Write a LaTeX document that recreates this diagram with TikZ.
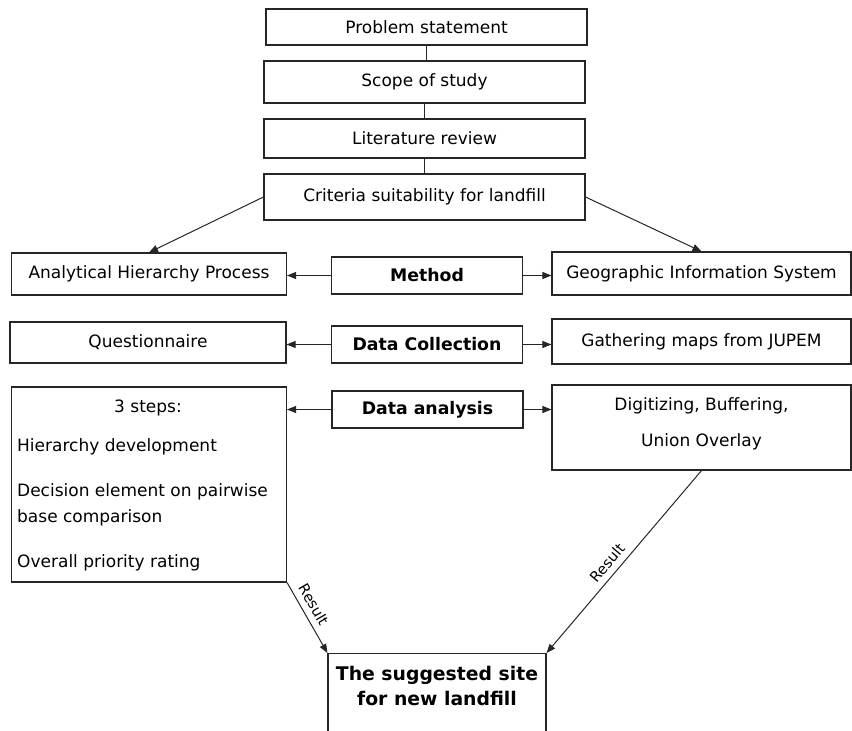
\documentclass[tikz,border=0pt]{standalone}
\usepackage{fontspec}
\setmainfont{DejaVu Sans}
\usetikzlibrary{arrows.meta}
\begin{document}
\begin{tikzpicture}[x=1pt,y=-1pt,
  txt/.style={font=\fontsize{17}{20}\selectfont},
  box/.style={draw=black!85,line width=1.1pt,rectangle,inner sep=0pt,anchor=center,txt},
  hbox/.style={box,font=\bfseries\fontsize{17.3}{20}\selectfont},
  line/.style={draw=black!85,line width=1pt},
  arr/.style={line,-{Triangle[length=9pt,width=7pt]}},
  lbl/.style={font=\fontsize{14.5}{16}\selectfont,sloped,above=5pt,inner sep=1pt}]
\useasboundingbox (0,0) rectangle (852,731);
\clip (0,0) rectangle (852,731);
% top chain
\node[box,minimum width=321pt,minimum height=36pt] (ps) at (426.5,27) {Problem statement};
\node[box,minimum width=321pt,minimum height=42pt] (sc) at (424.5,82) {Scope of study};
\node[box,minimum width=321pt,minimum height=39pt] (lr) at (424.5,138.5) {Literature review};
\node[box,minimum width=321pt,minimum height=46pt] (cr) at (424.5,197) {Criteria suitability for landfill};
% row 1
\node[box,minimum width=275pt,minimum height=42pt] (ahp) at (149,274) {Analytical Hierarchy Process};
\node[hbox,minimum width=191pt,minimum height=37pt] (me) at (427,275.5) {Method};
\node[box,minimum width=299pt,minimum height=43pt] (gis) at (701.5,273.5) {Geographic Information System};
% row 2
\node[box,minimum width=276pt,minimum height=41pt] (qu) at (148,342.5) {Questionnaire};
\node[hbox,minimum width=191pt,minimum height=37pt] (dc) at (427,344.5) {Data Collection};
\node[box,minimum width=299pt,minimum height=45pt] (gm) at (701.5,341.5) {Gathering maps from JUPEM};
% row 3
\node[box,minimum width=275pt,minimum height=195pt] (st) at (149,484.5) {};
\node[hbox,minimum width=191pt,minimum height=37pt] (da) at (427.5,409.5) {Data analysis};
\node[box,minimum width=299pt,minimum height=85pt] (dg) at (701.5,427.5) {};
\node[txt,anchor=center] (dg1) at (701.5,406) {Digitizing, Buffering,};
\node[txt,anchor=center] (dg2) at (701.5,442) {Union Overlay};
\node[txt,anchor=center] (s0) at (148,408) {3 steps:};
\node[txt,anchor=west,inner sep=0pt] (s1) at (17,447) {Hierarchy development};
\node[txt,anchor=west,inner sep=0pt] (s2) at (17,492) {Decision element on pairwise};
\node[txt,anchor=west,inner sep=0pt] (s3) at (17,518) {base comparison};
\node[txt,anchor=west,inner sep=0pt] (s4) at (17,563) {Overall priority rating};
% final
\node[draw=black!85,line width=1.1pt,minimum width=218pt,minimum height=100pt,anchor=north,inner sep=0pt] (fin) at (437,653) {};
\node[font=\bfseries\fontsize{18.8}{25}\selectfont,align=center,anchor=center] (fint) at (437,685.5) {The suggested site\\for new landfill};
% connectors
\draw[line] (ps.south) -- (ps.south |- sc.north);
\draw[line] (sc.south) -- (sc.south |- lr.north);
\draw[line] (lr.south) -- (lr.south |- cr.north);
\draw[arr] (cr.west) -- (ahp.north);
\draw[arr] (cr.east) -- (gis.north);
\draw[arr] (me.west) -- (me.west -| ahp.east);
\draw[arr] (me.east) -- (me.east -| gis.west);
\draw[arr] (dc.west) -- (dc.west -| qu.east);
\draw[arr] (dc.east) -- (dc.east -| gm.west);
\draw[arr] (da.west) -- (da.west -| st.east);
\draw[arr] (da.east) -- (da.east -| dg.west);
\draw[arr] (st.south east) -- node[lbl,pos=0.4] {Result} (fin.north west);
\draw[arr] (dg.south) -- node[lbl,pos=0.55] {Result} (fin.north east);
\end{tikzpicture}
\end{document}
